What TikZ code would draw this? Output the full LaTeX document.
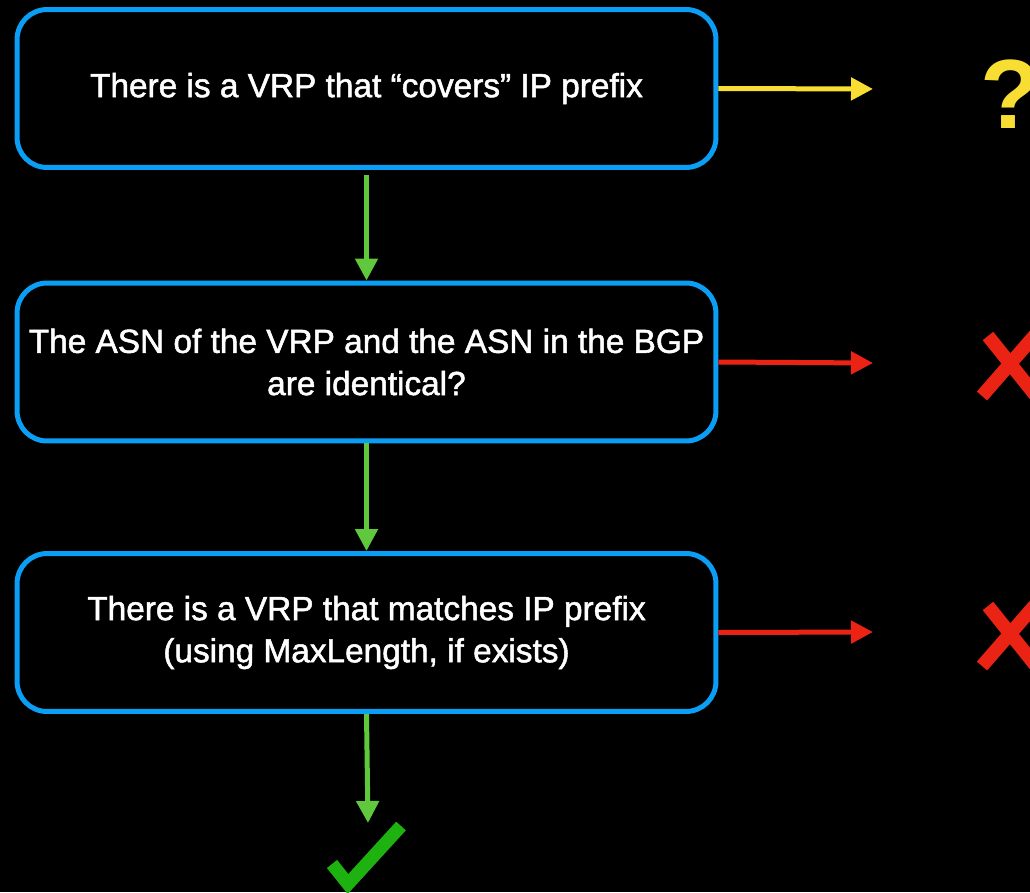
\documentclass[tikz,border=0pt]{standalone}
\usepackage{fontspec}
\setmainfont{Liberation Sans}
\newfontfamily\boxfont[FakeBold=1.5]{Liberation Sans}
\usepackage{xcolor}
\usetikzlibrary{arrows.meta}
\definecolor{vrpblue}{RGB}{10,158,245}
\definecolor{passgreen}{RGB}{96,200,60}
\definecolor{tickgreen}{RGB}{30,178,16}
\definecolor{warnyellow}{RGB}{248,222,50}
\definecolor{failred}{RGB}{235,35,20}

\begin{document}
\begin{tikzpicture}[x=0.02cm,y=-0.02cm,
    stepbox/.style={draw=vrpblue,line width=0.1cm,rounded corners=0.6cm,
        minimum width=13.98cm,minimum height=3.16cm,align=center,
        text=white,font=\boxfont\fontsize{19}{24}\selectfont},
    flow/.style={line width=0.1cm,-{Triangle[length=0.44cm,width=0.44cm]}},
    cross/.style={failred,line width=0.27cm}]
        \fill[black] (0,0) rectangle (1030,892);
        \useasboundingbox (0,0) rectangle (1030,892);

        % the three checks
        \node[stepbox] (covers) at (366.5,88.5) {There is a VRP that “covers” IP prefix};
        \node[stepbox] (asn) at (366.5,362) {The ASN of the VRP and the ASN in the BGP\\are identical?};
        \node[stepbox] (match) at (366.5,632.5) {There is a VRP that matches IP prefix\\(using MaxLength, if exists)};

        \coordinate (unknownend) at (873,89);
        \coordinate (asnend) at (873,363);
        \coordinate (matchend) at (873,632);
        \coordinate (validend) at (368,823);

        \draw[flow,passgreen,shorten <=0.1cm] (covers.south) -- (asn.north);
        \draw[flow,passgreen] (asn.south) -- (match.north);
        \draw[flow,passgreen] (match.south) -- (validend);

        \draw[flow,warnyellow] (covers.east) -- (unknownend);
        \draw[flow,failred] (asn.east) -- (asnend);
        \draw[flow,failred] (match.east) -- (matchend);

        % outcomes
        \node[anchor=base west,inner sep=0pt,text=warnyellow,
            font=\bfseries\fontsize{56}{56}\selectfont] (unknown) at (980,128) {?};
        \draw[cross] (988,336) -- (1036,396);
        \draw[cross] (982,396) -- (1036,334);
        \draw[cross] (988,606) -- (1036,666);
        \draw[cross] (982,666) -- (1036,604);
        \draw[tickgreen,line width=0.26cm] (332,864) -- (348,884) -- (401,826);
    \end{tikzpicture}
\end{document}
